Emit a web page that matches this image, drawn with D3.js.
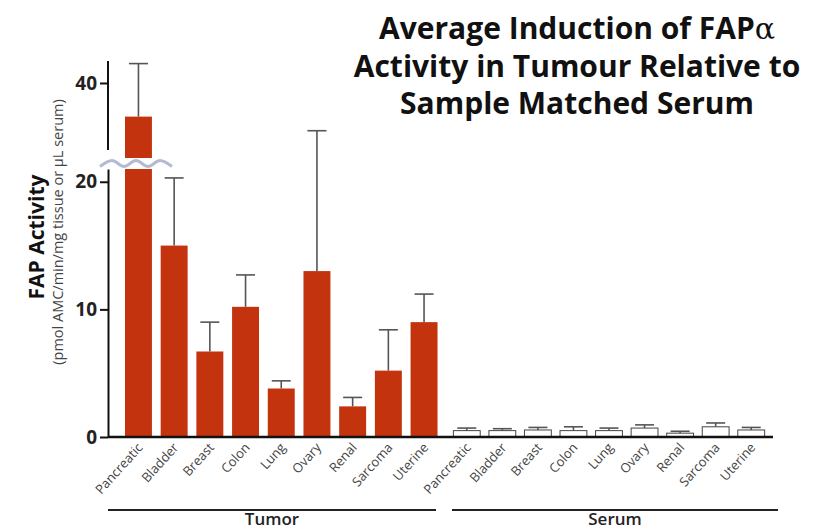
<!DOCTYPE html>
<html lang="en">
<head>
  <meta charset="UTF-8" />
  <title>Average Induction of FAP Activity</title>
  <script src="https://d3js.org/d3.v7.min.js"></script>
  <style>
    body { margin: 0; background: #fff; }
    text { font-family: "Open Sans", "Liberation Sans", sans-serif; }
    .axis path, .axis line { stroke: #111; stroke-width: 2; }
    .axis text { font-size: 19px; font-weight: 700; fill: #222; }
    .xlab { font-size: 13px; fill: #444; }
  </style>
</head>
<body>
  <div id="chart"></div>
  <script>
    // Data
    const tissues = ["Pancreatic", "Bladder", "Breast", "Colon", "Lung", "Ovary", "Renal", "Sarcoma", "Uterine"];
    const tumorMean = [37.4, 15.0, 6.7, 10.2, 3.8, 13.0, 2.4, 5.2, 9.0];
    const tumorErr  = [4.1, 5.3, 2.3, 2.5, 0.6, 11.0, 0.7, 3.2, 2.2];
    const serumMean = [0.5, 0.5, 0.55, 0.5, 0.5, 0.7, 0.3, 0.8, 0.55];
    const serumErr  = [0.2, 0.15, 0.2, 0.3, 0.2, 0.25, 0.15, 0.3, 0.2];
    const groups = ["Tumor", "Serum"];
    const lowTicks = [0, 10, 20];
    const highTicks = [40];
    const titleLines = ["Average Induction of FAP", "Activity in Tumour Relative to", "Sample Matched Serum"];

    const width = 819, height = 530;
    const svg = d3.select("#chart").append("svg")
      .attr("width", width).attr("height", height);

    // broken y axis: two linear segments
    const yLow = d3.scaleLinear().domain([0, 21]).range([437, 169]);
    const yHigh = d3.scaleLinear().domain([34.2, 41.7]).range([158, 61]);
    const breakAt = 21;
    const yOf = v => v > 30 ? yHigh(v) : yLow(v);

    const xGroup = {
      Tumor: d3.scaleBand().domain(tissues).range([120.6, 441.9]).paddingInner(0.245).paddingOuter(0.1225),
      Serum: d3.scaleBand().domain(tissues).range([449, 769]).paddingInner(0.245).paddingOuter(0.1225)
    };

    const red = "#c2330e";

    const tumor = tissues.map((t, i) => ({ t, v: tumorMean[i], e: tumorErr[i] }));
    const serum = tissues.map((t, i) => ({ t, v: serumMean[i], e: serumErr[i] }));

    function drawErr(g, x, d, capW) {
      const cx = x(d.t) + x.bandwidth() / 2;
      g.append("line").attr("x1", cx).attr("x2", cx)
        .attr("y1", yOf(d.v)).attr("y2", yOf(d.v + d.e))
        .attr("stroke", "#555").attr("stroke-width", 1.6);
      g.append("line").attr("x1", cx - capW / 2).attr("x2", cx + capW / 2)
        .attr("y1", yOf(d.v + d.e)).attr("y2", yOf(d.v + d.e))
        .attr("stroke", "#555").attr("stroke-width", 1.6);
    }

    const gT = svg.append("g");
    tumor.forEach(d => {
      const x = xGroup.Tumor;
      drawErr(gT, x, d, 19);
      if (d.v > breakAt) {
        gT.append("rect").attr("x", x(d.t)).attr("width", x.bandwidth())
          .attr("y", yLow(breakAt)).attr("height", yLow(0) - yLow(breakAt)).attr("fill", red);
        gT.append("rect").attr("x", x(d.t)).attr("width", x.bandwidth())
          .attr("y", yHigh(d.v)).attr("height", yHigh(yHigh.domain()[0]) - yHigh(d.v)).attr("fill", red);
      } else {
        gT.append("rect").attr("x", x(d.t)).attr("width", x.bandwidth())
          .attr("y", yLow(d.v)).attr("height", yLow(0) - yLow(d.v)).attr("fill", red);
      }
    });

    const gS = svg.append("g");
    serum.forEach(d => {
      const x = xGroup.Serum;
      drawErr(gS, x, d, 19);
      gS.append("rect").attr("x", x(d.t)).attr("width", x.bandwidth())
        .attr("y", yLow(d.v)).attr("height", yLow(0) - yLow(d.v))
        .attr("fill", "#fff").attr("stroke", "#444").attr("stroke-width", 1);
    });

    // axes
    svg.append("g").attr("class", "axis").attr("transform", "translate(108,0)")
      .call(d3.axisLeft(yLow).tickValues(lowTicks).tickSize(8).tickSizeOuter(0).tickPadding(3));
    svg.append("g").attr("class", "axis").attr("transform", "translate(108,0)")
      .call(d3.axisLeft(yHigh).tickValues(highTicks).tickSize(8).tickSizeOuter(0).tickPadding(3))
      .select(".domain").attr("d", `M0,${yHigh.range()[0] - 8}V${yHigh.range()[1]}`);

    // baseline
    svg.append("line").attr("x1", 108).attr("x2", 773)
      .attr("y1", yLow(0)).attr("y2", yLow(0))
      .attr("stroke", "#111").attr("stroke-width", 2.5);

    // break squiggle
    const sq = d3.range(0, 7).map(i => [100 + i * 12, (yHigh.range()[0] + yLow.range()[1]) / 2 + (i % 2 ? -3 : 3)]);
    svg.append("path")
      .attr("d", d3.line().curve(d3.curveCatmullRom)(sq))
      .attr("fill", "none").attr("stroke", "#b3bbd0").attr("stroke-width", 3);

    // category labels
    groups.forEach(gname => {
      const x = xGroup[gname];
      svg.append("g").selectAll("text").data(tissues).join("text")
        .attr("class", "xlab")
        .attr("text-anchor", "end")
        .attr("transform", t => `translate(${x(t) + x.bandwidth() / 2 + 5},${yLow(0) + 11}) rotate(-48)`)
        .text(t => t);
    });

    // group brackets
    const groupSpan = { Tumor: [108, 436], Serum: [452, 778] };
    groups.forEach(gname => {
      const [a, b] = groupSpan[gname];
      svg.append("line").attr("x1", a).attr("x2", b).attr("y1", 510).attr("y2", 510)
        .attr("stroke", "#222").attr("stroke-width", 2);
      svg.append("text").attr("x", (a + b) / 2).attr("y", 525)
        .attr("text-anchor", "middle").attr("font-size", 17).attr("font-weight", 600)
        .attr("fill", "#222").text(gname);
    });

    // y labels
    svg.append("text")
      .attr("transform", "translate(44,237) rotate(-90)")
      .attr("text-anchor", "middle").attr("font-size", 21).attr("font-weight", 700)
      .attr("fill", "#111").text("FAP Activity");
    svg.append("text")
      .attr("transform", "translate(63,232) rotate(-90)")
      .attr("text-anchor", "middle").attr("font-size", 14.5)
      .attr("fill", "#444").text("(pmol AMC/min/mg tissue or \u00B5L serum)");

    // title
    const title = svg.append("text").attr("text-anchor", "middle")
      .attr("font-size", 30).attr("font-weight", 700).attr("fill", "#111");
    titleLines.forEach((line, i) => {
      title.append("tspan").attr("x", 577).attr("y", 39 + i * 37.5).text(line);
      if (i === 0) {
        title.append("tspan").attr("font-family", "'DejaVu Serif', serif")
          .attr("font-weight", 400).text("\u03B1");
      }
    });
  </script>
</body>
</html>
